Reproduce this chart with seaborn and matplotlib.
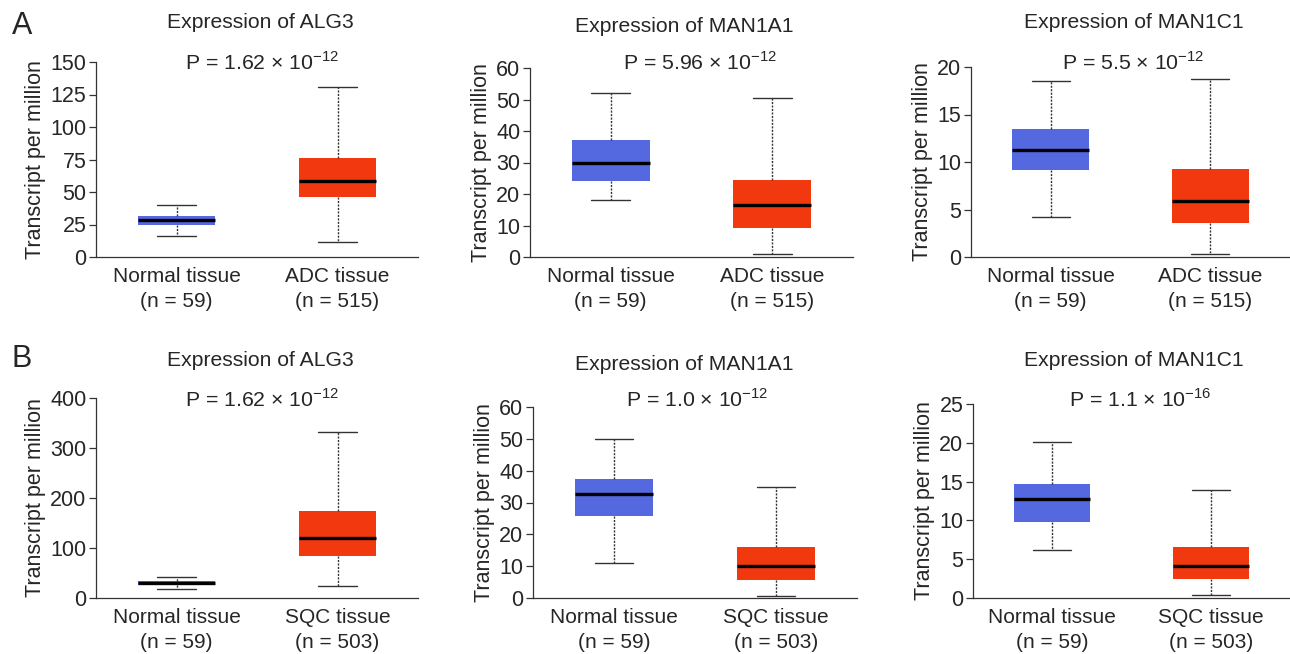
import numpy as np
import pandas as pd
import matplotlib
matplotlib.use("Agg")
import matplotlib.pyplot as plt
import seaborn as sns

# five-number summaries: [min, q1, median, q3, max]
alg3_normal_a = [16.4, 24.4, 28.3, 31.9, 40.0]
alg3_adc = [11.3, 46.2, 58.6, 76.5, 130.7]
man1a1_normal_a = [18.0, 24.2, 29.9, 37.0, 52.0]
man1a1_adc = [0.85, 9.3, 16.4, 24.5, 50.5]
man1c1_normal_a = [4.17, 9.14, 11.28, 13.5, 18.5]
man1c1_adc = [0.35, 3.57, 5.85, 9.25, 18.74]

alg3_normal_b = [17.9, 25.2, 29.9, 33.9, 42.5]
alg3_sqc = [23.9, 83.1, 119.6, 174.8, 331.6]
man1a1_normal_b = [10.96, 25.7, 32.8, 37.4, 49.8]
man1a1_sqc = [0.5, 5.5, 9.9, 16.1, 35.0]
man1c1_normal_b = [6.13, 9.78, 12.7, 14.75, 20.1]
man1c1_sqc = [0.34, 2.44, 4.16, 6.6, 13.98]

genes = ["ALG3", "MAN1A1", "MAN1C1"]
p_mantissa_a = ["1.62", "5.96", "5.5"]
p_exponent_a = ["12", "12", "12"]
p_mantissa_b = ["1.62", "1.0", "1.1"]
p_exponent_b = ["12", "12", "16"]
labels_a = ["Normal tissue\n(n = 59)", "ADC tissue\n(n = 515)"]
labels_b = ["Normal tissue\n(n = 59)", "SQC tissue\n(n = 503)"]
yticks_a = [np.arange(0, 151, 25), np.arange(0, 61, 10), np.arange(0, 21, 5)]
yticks_b = [np.arange(0, 401, 100), np.arange(0, 61, 10), np.arange(0, 26, 5)]

BLUE = "#5468DF"
RED = "#F2380F"
DARK = "#333333"

sns.set_theme(style="ticks")
plt.rcParams["font.family"] = ["Liberation Sans", "DejaVu Sans"]

W, H = 1290, 654
fig = plt.figure(figsize=(12.9, 6.54), dpi=100)

# axes boxes in pixels: left, right, bottom, top
boxes = [
    (96, 418, 257, 62), (530, 853, 257, 68), (971, 1290, 257, 67),
    (96, 418, 598, 398), (533, 857, 598, 407), (973, 1290, 598, 404),
]
title_y = [23, 27, 23, 361, 365, 361]
title_x = [260, 684, 1134, 260, 684, 1134]
p_y = [63, 63, 63, 400, 400, 400]
p_x = [262, 700, 1133, 262, 697, 1140]

panels = [
    (alg3_normal_a, alg3_adc, labels_a), (man1a1_normal_a, man1a1_adc, labels_a),
    (man1c1_normal_a, man1c1_adc, labels_a),
    (alg3_normal_b, alg3_sqc, labels_b), (man1a1_normal_b, man1a1_sqc, labels_b),
    (man1c1_normal_b, man1c1_sqc, labels_b),
]
yticks = yticks_a + yticks_b
p_mant = p_mantissa_a + p_mantissa_b
p_exp = p_exponent_a + p_exponent_b

for i, (normal, tumour, labels) in enumerate(panels):
    l, r, b, t = boxes[i]
    ax = fig.add_axes([l / W, 1 - b / H, (r - l) / W, (b - t) / H])
    df = pd.DataFrame({
        "tissue": [labels[0]] * len(normal) + [labels[1]] * len(tumour),
        "tpm": normal + tumour,
    })
    sns.boxplot(data=df, x="tissue", y="tpm", hue="tissue", palette=[BLUE, RED],
                saturation=1, whis=(0, 100), width=0.48, showfliers=False,
                legend=False, ax=ax, linewidth=1, linecolor=DARK,
                boxprops={"edgecolor": "none"},
                medianprops={"color": "black", "linewidth": 2.4},
                whiskerprops={"color": DARK, "linestyle": (0, (1.5, 1)), "linewidth": 1},
                capprops={"color": DARK, "linewidth": 1})
    ax.set_xlim(-0.5, 1.5)
    ax.set_ylim(0, yticks[i][-1])
    ax.set_yticks(yticks[i])
    ax.set_xlabel("")
    ax.set_ylabel("Transcript per million", fontsize=15.5, labelpad=3)
    ax.tick_params(axis="y", labelsize=15.5, length=5, width=0.9, color=DARK, pad=2)
    ax.tick_params(axis="x", labelsize=15, length=0, pad=7)
    for lab in ax.get_xticklabels():
        lab.set_linespacing(1.45)
    ax.set_facecolor("none")
    sns.despine(ax=ax)
    for sp in ["left", "bottom"]:
        ax.spines[sp].set_color(DARK)
        ax.spines[sp].set_linewidth(0.9)

    fig.text(title_x[i] / W, 1 - title_y[i] / H, "Expression of " + genes[i % 3],
             ha="center", va="center", fontsize=15.2)
    fig.text(p_x[i] / W, 1 - p_y[i] / H,
             "P = " + p_mant[i] + " \u00d7 10$^{\\mathregular{\u2212" + p_exp[i] + "}}$",
             ha="center", va="center", fontsize=15.3)

fig.text(12 / W, 1 - 26 / H, "A", fontsize=22, va="center", ha="left")
fig.text(12 / W, 1 - 359 / H, "B", fontsize=22, va="center", ha="left")

fig.savefig("out.png", dpi=100)
